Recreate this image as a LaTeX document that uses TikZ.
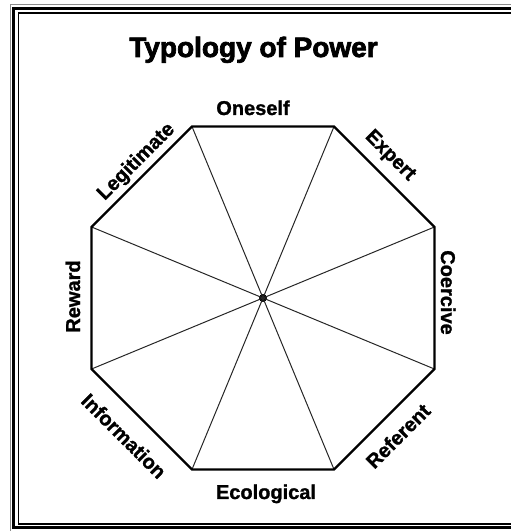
\documentclass[tikz,border=0pt]{standalone}
\usepackage{fontspec}
\setmainfont{Liberation Sans}
\newfontfamily\heavyfont{Liberation Sans}[UprightFont=*-Bold, FakeBold=2.5]
\newfontfamily\labelfont{Liberation Sans}[UprightFont=*-Bold, FakeBold=1.2]
\begin{document}
\begin{tikzpicture}[x=1pt,y=1pt,
  lbl/.style={font=\labelfont\fontsize{20}{20}\selectfont, inner sep=0pt},
  spoke/.style={line width=1pt, black!85},
  rim/.style={line width=2.4pt, line join=miter}]
  \useasboundingbox (0,0) rectangle (511,531);
  % frame
  \draw[black!45, line width=1pt] (10.5,-5) rectangle (530,526);
  \draw[line width=3pt] (13.5,3) rectangle (530,522.5);
  \draw[line width=1.3pt] (18.5,7) rectangle (530,518);
  \node[font=\heavyfont\fontsize{28}{28}\selectfont, anchor=base, inner sep=0pt] (title) at (253.5,474) {Typology of Power};
  % octagon
  \coordinate (o) at (263,233);
  \foreach \i in {1,...,8}
    \path (o) ++({22.5+45*(\i-1)}:185.6) coordinate (v\i);
  \node[circle, fill, inner sep=0pt, minimum size=8] (hub) at (o) {};
  \foreach \i in {1,...,8}
    \draw[spoke] (hub.center) -- (v\i);
  \draw[rim] (v1) \foreach \i in {2,...,8} {-- (v\i)} -- cycle;
  % labels
  \node[lbl, anchor=base] (oneself) at (253,416) {Oneself};
  \node[lbl, rotate=-45] (expert) at (390,375) {Expert};
  \node[lbl, anchor=base, rotate=-90] (coercive) at (441,238.5) {Coercive};
  \node[lbl, rotate=45] (referent) at (398,95) {Referent};
  \node[lbl, anchor=base] (ecological) at (266,32) {Ecological};
  \node[lbl, rotate=-45] (information) at (124,95) {Information};
  \node[lbl, anchor=base, rotate=90] (reward) at (80,234.5) {Reward};
  \node[lbl, rotate=45] (legitimate) at (136.5,369) {Legitimate};
\end{tikzpicture}
\end{document}
